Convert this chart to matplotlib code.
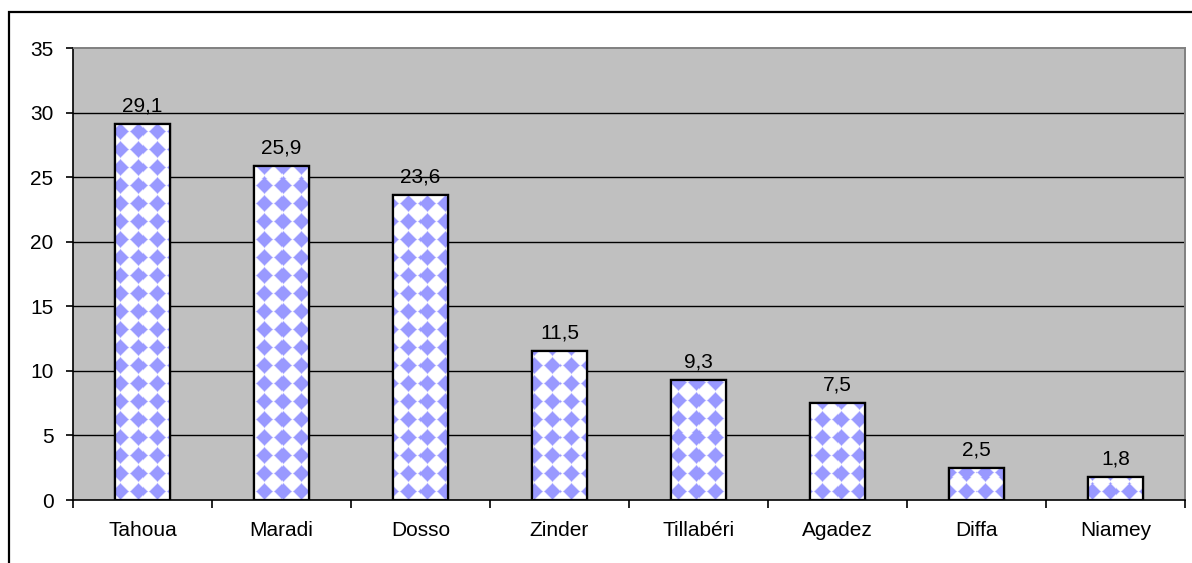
import numpy as np
import matplotlib
matplotlib.use("Agg")
import matplotlib.pyplot as plt
from matplotlib.patches import Rectangle

regions = ["Tahoua", "Maradi", "Dosso", "Zinder", "Tillabéri", "Agadez", "Diffa", "Niamey"]
values = [29.1, 25.9, 23.6, 11.5, 9.3, 7.5, 2.5, 1.8]
value_labels = ["29,1", "25,9", "23,6", "11,5", "9,3", "7,5", "2,5", "1,8"]
yticks = [0, 5, 10, 15, 20, 25, 30, 35]

plt.rcParams["font.family"] = ["Liberation Sans", "DejaVu Sans"]

W, H, DPI = 1192, 563, 100
fig = plt.figure(figsize=(W / DPI, H / DPI), dpi=DPI)
fig.patch.set_facecolor("white")

ax_l, ax_r, ax_t, ax_b = 73, 1185, 48, 500
ax = fig.add_axes([ax_l / W, 1 - ax_b / H, (ax_r - ax_l) / W, (ax_b - ax_t) / H])
ax.set_facecolor("#C0C0C0")
ax.set_xlim(-0.5, len(regions) - 0.5)
ax.set_ylim(0, 35)

# gridlines
for y in yticks[1:-1]:
    ax.axhline(y, color="black", lw=1.0, zorder=1)

x = np.arange(len(regions))
bars = ax.bar(x, values, width=0.4, color="white", edgecolor="black", linewidth=1.6, zorder=2)

# diamond fill pattern, built in pixel space of the axes
pw, ph = ax_r - ax_l, ax_b - ax_t
step, r, soft = 18.0, 8.2, 2.0
jj, ii = np.meshgrid(np.arange(pw), np.arange(ph))
u = (jj + 16) % step - step / 2
v = (ph - 1 - ii + 1) % step - step / 2
w = np.clip((r - (np.abs(u) + np.abs(v))) / soft + 0.5, 0, 1)[..., None]
blue = np.array([0x99, 0x99, 0xFF]) / 255.0
img = (1 - w) * np.ones(3) + w * blue
for b in bars:
    im = ax.imshow(img, extent=(-0.5, len(regions) - 0.5, 0, 35), aspect="auto",
                   interpolation="nearest", zorder=2.5, origin="upper")
    im.set_clip_path(b)
# redraw bar outlines on top
ax.bar(x, values, width=0.4, color="none", edgecolor="black", linewidth=1.6, zorder=3)

for xi, val, lab in zip(x, values, value_labels):
    ax.annotate(lab, (xi, val), xytext=(0, 9), textcoords="offset points",
                ha="center", va="baseline", fontsize=15, zorder=4)

ax.set_yticks(yticks)
ax.tick_params(axis="y", length=5, width=1.2, pad=9, labelsize=15, direction="out")
ax.set_xticks(x)
ax.set_xticklabels(regions)
ax.tick_params(axis="x", which="major", length=0, pad=15, labelsize=15)
ax.set_xticks(np.arange(len(regions) + 1) - 0.5, minor=True)
ax.tick_params(axis="x", which="minor", length=6, width=1.2, direction="out")

ax.spines["left"].set_color("black")
ax.spines["left"].set_linewidth(1.2)
ax.spines["bottom"].set_color("black")
ax.spines["bottom"].set_linewidth(1.2)
ax.spines["top"].set_color("#808080")
ax.spines["top"].set_linewidth(1.4)
ax.spines["right"].set_color("#808080")
ax.spines["right"].set_linewidth(1.4)
ax.set_axisbelow(False)

# outer chart frame
fig.add_artist(Rectangle((9 / W, -0.1), 1.2, 1.1 - 12 / H, transform=fig.transFigure,
                         fill=False, edgecolor="black", linewidth=1.6))

fig.savefig("out.png", dpi=DPI)
